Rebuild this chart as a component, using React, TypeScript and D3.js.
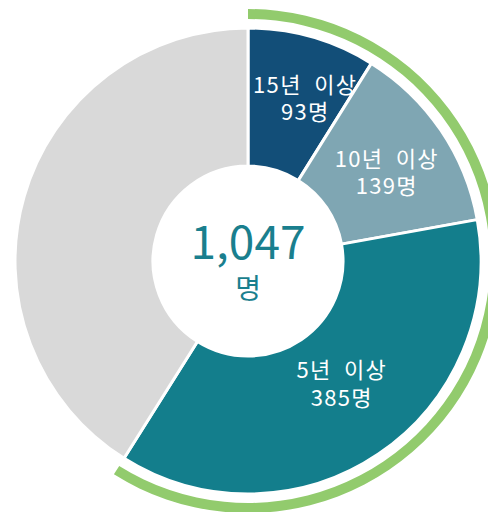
import React from "react";
import * as d3 from "d3";

const categories = ["15년 이상", "10년 이상", "5년 이상", "기타"];
const values = [93, 139, 385, 430];
const valueLabels = ["93명", "139명", "385명", ""];
const colors = ["#124E78", "#7FA6B3", "#137E8C", "#D9D9D9"];
const totalLabel = "1,047";
const unitLabel = "명";

// layout nudges for the data labels (px)
const labelNudge: [number, number][] = [[12, -5], [3, 3], [2, -13], [0, 0]];

export default function App() {
  const W = 488, H = 512;
  const cx = 248, cy = 261;
  const rIn = 95, rOut = 233;
  const total = d3.sum(values);
  const pie = d3.pie<number>().sort(null).value((d) => d).startAngle(0).endAngle(2 * Math.PI);
  const arcs = pie(values);
  const arc = d3.arc<d3.PieArcDatum<number>>().innerRadius(rIn).outerRadius(rOut);
  const highlightEnd = (d3.sum(values.slice(0, 3)) / total) * 2 * Math.PI;
  const green = d3.arc()({ innerRadius: 242, outerRadius: 252, startAngle: 0, endAngle: highlightEnd }) as string;
  const font = "'Noto Sans CJK KR', 'Noto Sans', sans-serif";
  return (
    <svg width={W} height={H} style={{ position: "absolute", left: 0, top: 0, background: "#fff" }}>
      <g transform={`translate(${cx},${cy})`}>
        <path d={green} fill="#92CB6D" />
        {arcs.map((a, i) => (
          <path key={i} d={arc(a) as string} fill={colors[i]} stroke="#fff" strokeWidth={3} />
        ))}
        {arcs.map((a, i) => {
          if (!valueLabels[i]) return null;
          const [x0, y0] = arc.centroid(a);
          const x = x0 + labelNudge[i][0];
          const y = y0 + labelNudge[i][1];
          return (
            <text key={"t" + i} x={x} y={y} textAnchor="middle" fill="#fff" fontFamily={font} fontSize={22} letterSpacing={1.3}>
              <tspan x={x} dy={-5.5}>{categories[i].replace(" ", "\u00a0\u00a0")}</tspan>
              <tspan x={x} dy={27.5}>{valueLabels[i]}</tspan>
            </text>
          );
        })}
        <text x={0} y={-2} textAnchor="middle" fill="#1A7F8E" fontFamily={font} fontSize={46}>{totalLabel}</text>
        <text x={0} y={38} textAnchor="middle" fill="#1A7F8E" fontFamily={font} fontSize={28}>{unitLabel}</text>
      </g>
    </svg>
  );
}
